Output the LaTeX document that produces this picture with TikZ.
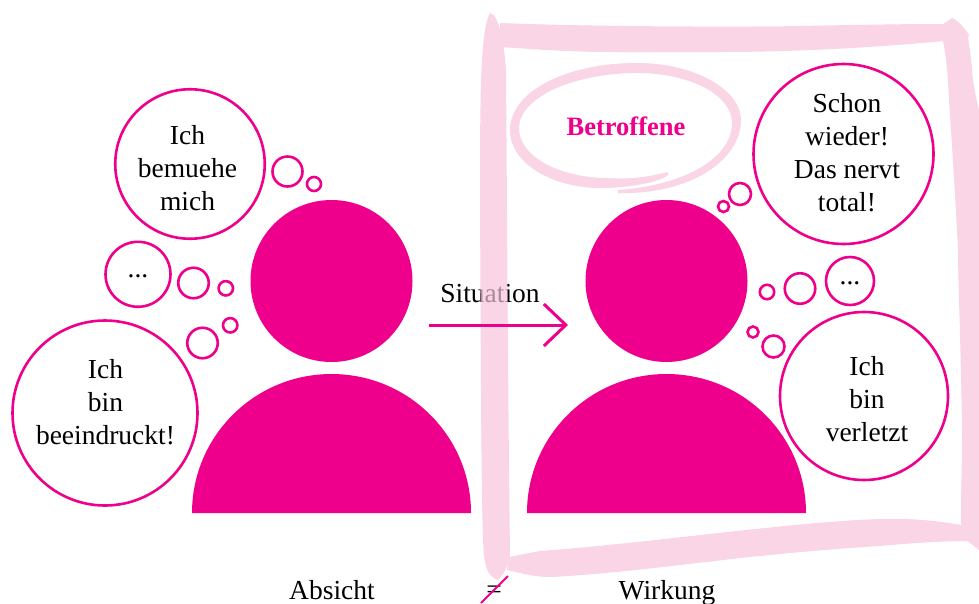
\documentclass[tikz,border=0pt]{standalone}
\usepackage{fontspec}
\setmainfont{Liberation Serif}
\usetikzlibrary{arrows.meta}
\definecolor{mag}{HTML}{EE008C}
\definecolor{bandc}{RGB}{246,195,218}
\tikzset{
 bubble/.style={circle,draw=mag,line width=2.6pt,fill=white,inner sep=0pt},
 btext/.style={align=center,font=\fontsize{27.5}{33}\selectfont,text=black,inner sep=0pt},
 head/.style={circle,fill=mag,inner sep=0pt,minimum size=162pt},
 body/.style={fill=mag},
 band/.style={fill=bandc},
 lab/.style={font=\fontsize{27.5}{33}\selectfont,text=black,inner sep=0pt,anchor=base},
 flow/.style={draw=mag,line width=3pt}
}
\begin{document}
\begin{tikzpicture}[x=1pt,y=-1pt]
\useasboundingbox (0,0) rectangle (979,603);
% bodies
\node[head] (headL) at (331.5,281) {};
\node[head] (headR) at (666.5,281) {};
\fill[body] (192,513) .. controls (192,436.2) and (254.4,374) .. (331.5,374) .. controls (408.6,374) and (471,436.2) .. (471,513) -- cycle;
\fill[body] (527,513) .. controls (527,436.2) and (589.4,374) .. (666.5,374) .. controls (743.6,374) and (806,436.2) .. (806,513) -- cycle;
% left bubbles
\node[bubble,minimum size=149.5pt] (l1) at (190,164) {};
\node[bubble,minimum size=30pt] (l1a) at (287.5,171.5) {};
\node[bubble,minimum size=14pt] (l1b) at (314,184) {};
\node[bubble,minimum size=65pt] (l2) at (138,274.3) {};
\node[bubble,minimum size=30.5pt] (l2a) at (193.5,283) {};
\node[bubble,minimum size=14.4pt] (l2b) at (225.8,288.3) {};
\node[bubble,minimum size=185pt] (l3) at (105,413) {};
\node[bubble,minimum size=30.5pt] (l3a) at (202.5,343) {};
\node[bubble,minimum size=14.4pt] (l3b) at (230.2,325.3) {};
\node[btext] (l1t) at (187.5,168) {Ich\\bemuehe\\mich};
\node[btext] (l2t) at (138,276.5) {...};
\node[btext] (l3t) at (105.5,402) {Ich\\bin\\beeindruckt!};
% right bubbles
\node[bubble,minimum size=180pt] (r1) at (843.5,154) {};
\node[bubble,minimum size=22pt] (r1a) at (740,194) {};
\node[bubble,minimum size=11pt] (r1b) at (723.5,206.5) {};
\node[bubble,minimum size=48pt] (r2) at (850,281) {};
\node[bubble,minimum size=30.5pt] (r2a) at (800,288.5) {};
\node[bubble,minimum size=14.4pt] (r2b) at (767,292) {};
\node[bubble,minimum size=168pt] (r3) at (864,396) {};
\node[bubble,minimum size=22pt] (r3a) at (773.5,346.5) {};
\node[bubble,minimum size=11pt] (r3b) at (753,332) {};
\node[btext] (r1t) at (847,153) {Schon\\wieder!\\Das nervt\\total!};
\node[btext] (r2t) at (850,283.5) {...};
\node[btext] (r3t) at (867,399) {Ich\\bin\\verletzt};
% labels below the marker
\node[lab] (sit) at (490,302) {Situation};
\node[lab] (abs) at (332,599) {Absicht};
\node[lab] (neq) at (494,598.5) {=};
\node[lab] (wir) at (667,599) {Wirkung};
% marker frame
\begin{scope}[transparency group,opacity=.7]
\fill[band] (500,23) .. controls (600,27) and (750,27) .. (800,26)
 .. controls (850,25) and (900,24) .. (943,24)
 -- (944,41)
 .. controls (880,47) and (800,52) .. (720,52)
 -- (610,52) .. controls (570,52) and (530,49) .. (500,47) -- cycle;
\fill[band] (490,13) .. controls (498,14) and (504,40) .. (506,70)
 .. controls (507,200) and (508,400) .. (510,555)
 .. controls (508,565) and (505,573) .. (498,580)
 .. controls (490,577) and (486,572) .. (484,555)
 .. controls (481,530) and (481,350) .. (480,210)
 .. controls (480,100) and (480,30) .. (490,13) -- cycle;
\fill[band] (943,24) -- (952,18) .. controls (958,20) and (966,30) .. (969,35)
 -- (968,38) .. controls (971,55) and (972,70) .. (973,80)
 .. controls (976,100) and (980,115) .. (985,130)
 -- (985,555) -- (968,541) -- (961,524)
 -- (961,500) .. controls (962,460) and (962,440) .. (962,430)
 .. controls (961,350) and (958,280) .. (958,250)
 .. controls (955,190) and (951,130) .. (949,100)
 .. controls (948,70) and (945,50) .. (943,41) -- cycle;
\fill[band] (509,557) -- (540,551)
 .. controls (650,543) and (790,522) .. (880,519)
 .. controls (920,518) and (950,522) .. (979,529)
 -- (979,550) -- (968,541)
 .. controls (940,541) and (900,544) .. (880,546)
 .. controls (830,549) and (790,553) .. (749,557)
 .. controls (680,565) and (600,575) .. (550,577)
 .. controls (535,577) and (520,573) .. (507,570) -- cycle;
% ring
\fill[band] (668,172) .. controls (640,179) and (625,179) .. (603,178)
 .. controls (555,176) and (519,155) .. (519,128)
 .. controls (519,97) and (575,73) .. (637,73)
 .. controls (690,73) and (732,95) .. (732,123)
 .. controls (732,160) and (680,186) .. (618,190)
 -- (618,193)
 .. controls (690,195) and (741,160) .. (741,120)
 .. controls (741,90) and (695,63) .. (637,63)
 .. controls (565,63) and (510,92) .. (510,130)
 .. controls (510,165) and (555,188) .. (600,188)
 .. controls (630,188) and (660,182) .. (668,175) -- cycle;
\end{scope}
\node[font=\fontsize{26.5}{30}\selectfont\bfseries,text=mag,inner sep=0pt,anchor=base] (bet) at (626,135) {Betroffene};
% arrow
\coordinate (arrS) at (429,325);
\coordinate (arrE) at (568,325);
\draw[flow,-{Straight Barb[length=22pt,width=42pt,line width=3pt]}] (arrS) -- (arrE);
\coordinate (slashA) at (481,603);
\coordinate (slashB) at (508,576);
\draw[draw=mag,line width=1.8pt] (slashA) -- (slashB);
\end{tikzpicture}
\end{document}
